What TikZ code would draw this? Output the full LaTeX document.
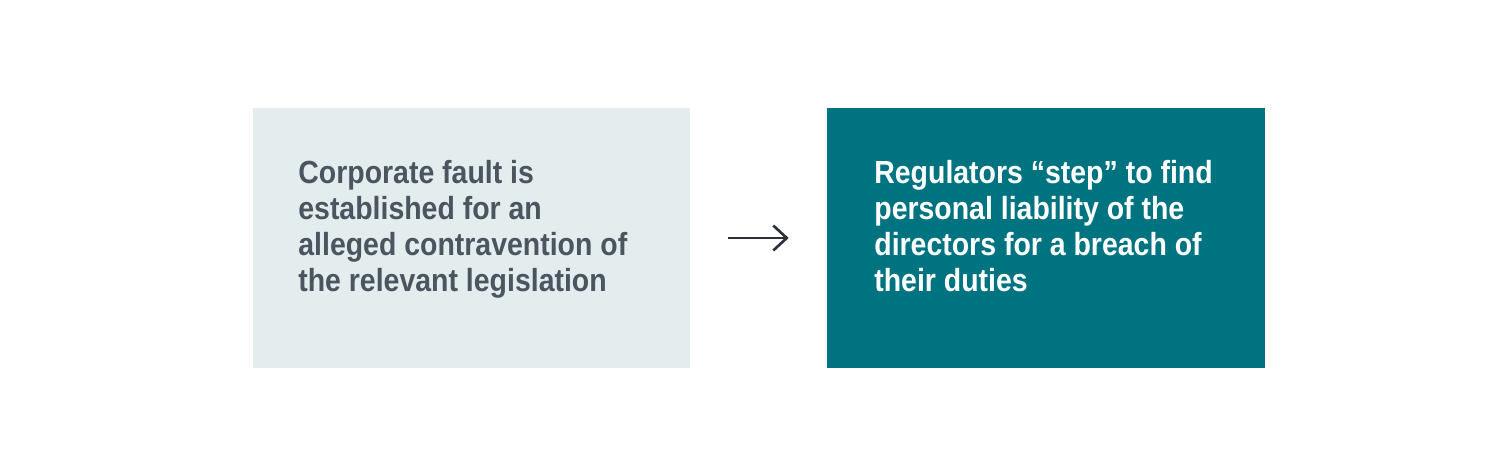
\documentclass[tikz,border=0pt]{standalone}
\usepackage{fontspec}
\newfontfamily\panelfont{Liberation Sans}[FakeStretch=0.89]
\usetikzlibrary{positioning,arrows.meta}
\definecolor{paleteal}{HTML}{E4EDEE}
\definecolor{deepteal}{HTML}{007381}
\definecolor{slatetext}{HTML}{4A5560}
\definecolor{arrowink}{HTML}{2B303B}
\tikzset{
  panel/.style args={#1,#2}{
  rectangle,
  fill=#1,
  draw=none,
  minimum width=8.76cm,
  minimum height=5.2cm,
  text=#2
  },
  paneltext/.style={
  anchor=north west,
  inner sep=0pt,
  align=left,
  font=\panelfont\bfseries\fontsize{18.2}{20.4}\selectfont
  },
  flow/.style={
  -{Straight Barb[length=2.7mm,width=5mm]},
  line width=1.5pt,
  draw=arrowink
  }
}
\begin{document}
\begin{tikzpicture}[x=0.02cm,y=-0.02cm]
  \useasboundingbox (0,0) rectangle (1500,463);

  \node [panel={paleteal,slatetext}] (fault) at (471.5,238) {};
  \node [panel={deepteal,white}] (step) at (1046,238) {};

  \node [paneltext,text=slatetext] (faulttext) at (298,160)
    {Corporate fault is\\established for an\\alleged contravention of\\the relevant legislation};
  \node [paneltext,text=white] (steptext) at (874,160)
    {Regulators “step” to find\\personal liability of the\\directors for a breach of\\their duties};

  \draw [flow,shorten <=0.74cm,shorten >=0.76cm] (fault) -- (step);
\end{tikzpicture}
\end{document}
